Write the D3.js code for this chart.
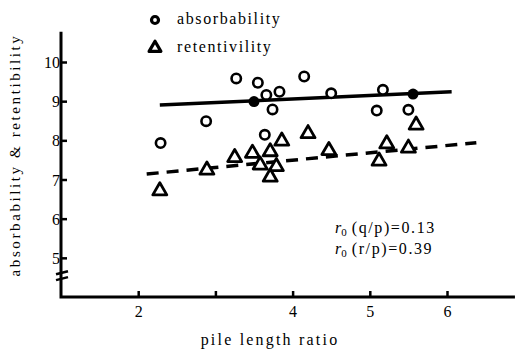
<!DOCTYPE html>
<html>
<head>
<meta charset="utf-8">
<script src="https://cdn.jsdelivr.net/npm/d3@7"></script>
<style>
  body { margin: 0; background: #fff; }
  svg text { font-family: "Liberation Serif", "DejaVu Serif", serif; fill: #000; }
</style>
</head>
<body>
<div id="chart"></div>
<script>
// absorbability (circles)
const absX = [2.29, 2.88, 3.27, 3.55, 3.66, 3.74, 3.83, 3.64, 4.15, 4.50, 5.17, 5.09, 5.50];
const absY = [7.93, 8.49, 9.58, 9.47, 9.16, 8.79, 9.24, 8.14, 9.63, 9.20, 9.29, 8.76, 8.78];
// filled mean points on the absorbability line
const meanX = [3.50, 5.56];
const meanY = [8.99, 9.18];
// retentivility (triangles)
const retX = [2.28, 2.89, 3.25, 3.48, 3.58, 3.71, 3.79, 3.71, 3.86, 4.20, 4.47, 5.12, 5.22, 5.50, 5.60];
const retY = [6.71, 7.24, 7.56, 7.67, 7.37, 7.71, 7.33, 7.06, 7.98, 8.17, 7.74, 7.47, 7.91, 7.80, 8.39];
// fitted lines
const absFit = [[2.28, 8.90], [6.06, 9.24]];
const retFit = [[2.11, 7.14], [6.38, 7.94]];

const xTicks = [2, 3, 4, 5, 6];
const xTickLabels = ['2', '', '4', '5', '6'];
const yTicks = [5, 6, 7, 8, 9, 10];
const notes = ['(q/p)=0.13', '(r/p)=0.39'];

const width = 515, height = 350;
const svg = d3.select('#chart').append('svg')
  .attr('width', width)
  .attr('height', height);

const x = d3.scaleLinear().domain([1, 6]).range([61, 447]);
const y = d3.scaleLinear().domain([4, 10]).range([297, 62]);

// axes
const yAxis = svg.append('g')
  .attr('transform', 'translate(' + x(1) + ',0)')
  .call(d3.axisLeft(y).tickValues(yTicks).tickSize(-6).tickPadding(1)
    .tickFormat(d3.format('d')));
yAxis.attr('font-family', 'Liberation Serif');
yAxis.select('.domain').remove();
yAxis.selectAll('line').attr('stroke-width', 2.5);
yAxis.selectAll('text').attr('font-size', 16).attr('dy', '0.35em');

const xAxis = svg.append('g')
  .attr('transform', 'translate(0,' + y(4) + ')')
  .call(d3.axisBottom(x).tickValues(xTicks).tickSize(-6).tickPadding(9)
    .tickFormat((d, i) => xTickLabels[i]));
xAxis.attr('font-family', 'Liberation Serif');
xAxis.select('.domain').remove();
xAxis.selectAll('line').attr('stroke-width', 2.5);
xAxis.selectAll('text').attr('font-size', 16);

// axis lines
svg.append('path')
  .attr('d', d3.line()([[x(1), y(10.77)], [x(1), y(4)], [x(6.88), y(4)]]))
  .attr('fill', 'none').attr('stroke', '#000').attr('stroke-width', 3);

// break marks on y axis
[4.62, 4.47].forEach(v => {
  svg.append('path')
    .attr('d', d3.line()([[x(1) - 5, y(v) + 1.5], [x(1) + 7, y(v) - 1.5]]))
    .attr('stroke', '#000').attr('stroke-width', 2.5);
});

// fitted lines
svg.append('path')
  .attr('d', d3.line().x(d => x(d[0])).y(d => y(d[1]))(absFit))
  .attr('fill', 'none').attr('stroke', '#000').attr('stroke-width', 3.5);
svg.append('path')
  .attr('d', d3.line().x(d => x(d[0])).y(d => y(d[1]))(retFit))
  .attr('fill', 'none').attr('stroke', '#000').attr('stroke-width', 3.5)
  .attr('stroke-dasharray', '12,8');

// circles
svg.selectAll('.abs')
  .data(absX)
  .enter().append('circle')
  .attr('class', 'abs')
  .attr('cx', d => x(d))
  .attr('cy', (d, i) => y(absY[i]))
  .attr('r', 4.7)
  .attr('fill', '#fff')
  .attr('stroke', '#000')
  .attr('stroke-width', 2.6);

svg.selectAll('.mean')
  .data(meanX)
  .enter().append('circle')
  .attr('class', 'mean')
  .attr('cx', d => x(d))
  .attr('cy', (d, i) => y(meanY[i]))
  .attr('r', 5.5)
  .attr('fill', '#000');

// triangles
const tri = d3.symbol().type(d3.symbolTriangle).size(85);
svg.selectAll('.ret')
  .data(retX)
  .enter().append('path')
  .attr('class', 'ret')
  .attr('d', tri)
  .attr('transform', (d, i) => 'translate(' + x(d) + ',' + y(retY[i]) + ')')
  .attr('fill', '#fff')
  .attr('stroke', '#000')
  .attr('stroke-width', 2.8)
  .attr('stroke-linejoin', 'round');

// legend
svg.append('circle')
  .attr('cx', 155).attr('cy', 20).attr('r', 3.5)
  .attr('fill', '#fff').attr('stroke', '#000').attr('stroke-width', 3.2);
svg.append('text').attr('x', 177).attr('y', 24)
  .attr('font-size', 16).attr('letter-spacing', 1.6).text('absorbability');
svg.append('path')
  .attr('d', d3.symbol().type(d3.symbolTriangle).size(60))
  .attr('transform', 'translate(155,48)')
  .attr('fill', '#fff').attr('stroke', '#000').attr('stroke-width', 3.2)
  .attr('stroke-linejoin', 'round');
svg.append('text').attr('x', 177).attr('y', 52)
  .attr('font-size', 16).attr('letter-spacing', 1.6).text('retentivility');

// correlation notes
notes.forEach((t, i) => {
  const tx = svg.append('text').attr('x', 335).attr('y', 233 + i * 21).attr('font-size', 16);
  tx.append('tspan').attr('font-style', 'italic').text('r');
  tx.append('tspan').attr('font-size', 11).attr('dy', 3).text('0');
  tx.append('tspan').attr('dy', -3).attr('dx', 5).attr('letter-spacing', 1.6).text(t);
});

// axis titles
svg.append('text')
  .attr('x', 270).attr('y', 345)
  .attr('text-anchor', 'middle')
  .attr('font-size', 16).attr('letter-spacing', 2.2)
  .text('pile length ratio');

svg.append('text')
  .attr('transform', 'translate(20,155) rotate(-90)')
  .attr('text-anchor', 'middle')
  .attr('font-size', 15).attr('letter-spacing', 2.6)
  .text('absorbability & retentibility');
</script>
</body>
</html>
